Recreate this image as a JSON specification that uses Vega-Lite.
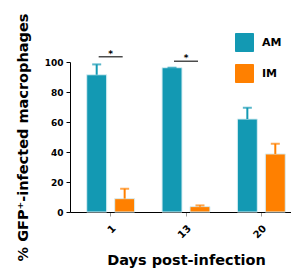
{
  "$schema": "https://vega.github.io/schema/vega-lite/v6.json",
  "autosize": {"type": "none"},
  "width": 221,
  "height": 150,
  "padding": {"left": 70, "top": 62, "right": 0, "bottom": 60},
  "background": "white",
  "config": {
    "view": {"stroke": null},
    "font": "DejaVu Sans",
    "axis": {"labelFont": "DejaVu Sans", "titleFont": "DejaVu Sans", "labelFontWeight": "bold", "titleFontWeight": "bold", "labelColor": "black", "titleColor": "black", "domainColor": "black", "tickColor": "black", "grid": false, "labelOverlap": false},
    "legend": {"symbolOpacity": 1}
  },
  "datasets": {
    "bars": [
      {"day": "1", "cell": "AM", "pct": 91.5, "err": 98.4},
      {"day": "1", "cell": "IM", "pct": 8.9, "err": 15.5},
      {"day": "13", "cell": "AM", "pct": 96.2, "err": 96.2},
      {"day": "13", "cell": "IM", "pct": 3.6, "err": 4.4},
      {"day": "20", "cell": "AM", "pct": 62, "err": 69.5},
      {"day": "20", "cell": "IM", "pct": 38.7, "err": 45.5}
    ],
    "sig": [
      {"day": "1", "line": 103.5, "star": 105.5, "label": "*"},
      {"day": "13", "line": 100.5, "star": 102.5, "label": "*"}
    ]
  },
  "layer": [
    {
      "data": {"name": "bars"},
      "mark": {"type": "bar", "stroke": "#d8eef3", "strokeWidth": 1, "opacity": 1},
      "encoding": {
        "x": {"field": "day", "type": "nominal", "sort": ["1", "13", "20"],
          "scale": {"range": [0, 232], "paddingInner": 0, "paddingOuter": 0.04},
          "axis": {"title": "Days post-infection", "titleFontSize": 14.5, "titlePadding": 14, "labelAngle": -45, "labelFontSize": 10, "tickSize": 4, "tickColor": "#999999", "labelPadding": 7}},
        "xOffset": {"field": "cell", "type": "nominal", "scale": {"paddingInner": 0.286, "paddingOuter": 0.49}},
        "y": {"field": "pct", "type": "quantitative",
          "scale": {"domain": [0, 100], "nice": false},
          "axis": {"title": "% GFP⁺-infected macrophages", "titleFontSize": 14.5, "titlePadding": 14, "values": [0, 20, 40, 60, 80, 100], "labelOverlap": false, "labelFontSize": 9, "tickSize": 4, "labelPadding": 3}},
        "color": {"field": "cell", "type": "nominal",
          "scale": {"domain": ["AM", "IM"], "range": ["#1399B3", "#FF8000"]},
          "legend": {"title": null, "orient": "none", "legendX": 165, "legendY": -29, "symbolType": "square", "symbolSize": 324, "symbolOpacity": 1, "symbolStrokeColor": "#e0f0f4", "symbolStrokeWidth": 1, "labelFontSize": 11, "labelFontWeight": "bold", "labelFont": "DejaVu Sans", "labelOffset": 8, "rowPadding": 8}}
      }
    },
    {
      "data": {"name": "bars"},
      "mark": {"type": "rule", "strokeWidth": 2},
      "encoding": {
        "x": {"field": "day", "type": "nominal", "sort": ["1", "13", "20"]},
        "xOffset": {"field": "cell", "type": "nominal"},
        "y": {"field": "pct", "type": "quantitative", "axis": {"values": [0, 20, 40, 60, 80, 100], "labelOverlap": false}},
        "y2": {"field": "err"},
        "color": {"field": "cell", "type": "nominal"}
      }
    },
    {
      "data": {"name": "bars"},
      "mark": {"type": "tick", "size": 9, "thickness": 2},
      "encoding": {
        "x": {"field": "day", "type": "nominal", "sort": ["1", "13", "20"]},
        "xOffset": {"field": "cell", "type": "nominal"},
        "y": {"field": "err", "type": "quantitative", "axis": {"values": [0, 20, 40, 60, 80, 100], "labelOverlap": false}},
        "color": {"field": "cell", "type": "nominal"}
      }
    },
    {
      "data": {"name": "sig"},
      "mark": {"type": "tick", "size": 24, "thickness": 1.5, "color": "black"},
      "encoding": {
        "x": {"field": "day", "type": "nominal", "sort": ["1", "13", "20"]},
        "y": {"field": "line", "type": "quantitative", "axis": {"values": [0, 20, 40, 60, 80, 100], "labelOverlap": false}}
      }
    },
    {
      "data": {"name": "sig"},
      "mark": {"type": "text", "fontSize": 9, "fontWeight": "bold", "color": "black", "baseline": "middle"},
      "encoding": {
        "x": {"field": "day", "type": "nominal", "sort": ["1", "13", "20"]},
        "y": {"field": "star", "type": "quantitative", "axis": {"values": [0, 20, 40, 60, 80, 100], "labelOverlap": false}},
        "text": {"field": "label"}
      }
    }
  ]
}
